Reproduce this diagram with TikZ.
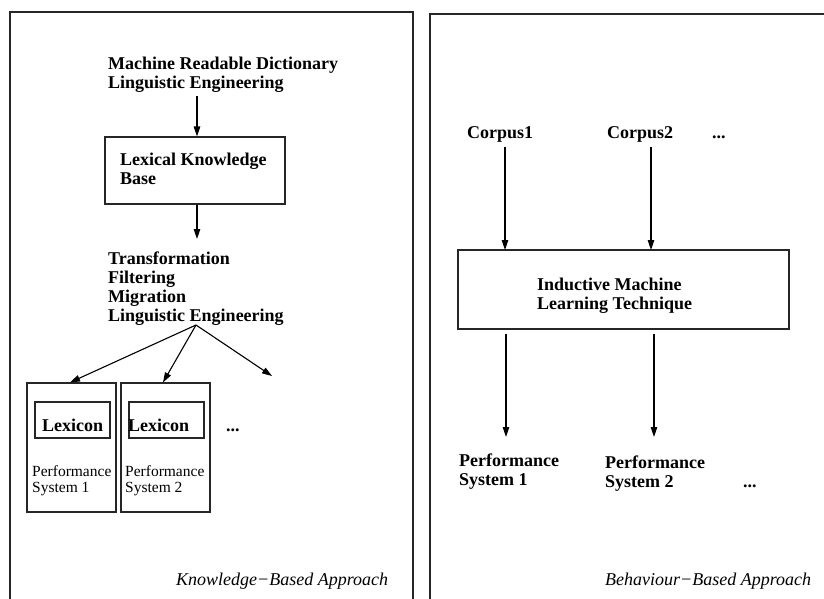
\documentclass[tikz,border=0pt]{standalone}
\usepackage{fontspec}
\setmainfont{Liberation Serif}
\usetikzlibrary{arrows.meta}

\tikzset{
  panel/.style={line width=1.2pt, black!85},
  box/.style={draw, line width=1.1pt, black!85, inner sep=0pt},
  bold/.style={font=\fontsize{18}{19}\selectfont\bfseries, align=left, anchor=base west, inner sep=0pt},
  plain/.style={font=\fontsize{15.5}{16}\selectfont, align=left, anchor=base west, inner sep=0pt},
  approach/.style={font=\fontsize{18}{19}\selectfont\itshape, anchor=base west, inner sep=0pt},
  flow/.style={-{Triangle[length=10pt,width=6.5pt]}, line width=1.1pt}
}

\begin{document}
\begin{tikzpicture}[x=1pt, y=1pt]
  \useasboundingbox (0,0) rectangle (824,-598);

  % knowledge-based panel
  \draw[panel] (10,-600) -- (10,-12) -- (413,-12) -- (413,-600);
  \node[bold] (mrd) at (108,-88) {Machine Readable Dictionary\\Linguistic Engineering};
  \node[box, minimum width=180pt, minimum height=67pt] (lkb) at (195,-170.5) {};
  \node[bold] (lkbtext) at (120,-184) {Lexical Knowledge\\Base};
  \node[bold] (tfm) at (108,-321) {Transformation\\Filtering\\Migration\\Linguistic Engineering};
  \coordinate (fork) at (196,-325);
  \coordinate (more) at (272,-376);
  \draw[flow] (mrd.south -| 197,0) ++(0,-4) -- (lkb.north -| 197,0);
  \draw[flow] (lkb.south -| 197,0) -- (197,-239);

  \node[box, minimum width=89pt, minimum height=129pt] (ps1) at (71.5,-447.5) {};
  \node[box, minimum width=89pt, minimum height=129pt] (ps2) at (165.5,-447.5) {};
  \node[box, minimum width=75pt, minimum height=36pt] (lex1) at (72.5,-420) {};
  \node[box, minimum width=75pt, minimum height=36pt] (lex2) at (166.5,-420) {};
  \node[bold] (lex1text) at (42,-431) {Lexicon};
  \node[bold] (lex2text) at (128,-431) {Lexicon};
  \node[bold] (dots1) at (226,-431) {...};
  \node[plain] (ps1text) at (32,-492) {Performance\\System 1};
  \node[plain] (ps2text) at (125,-492) {Performance\\System 2};
  \draw[flow] (fork) -- (ps1.north -| 70,0);
  \draw[flow] (fork) -- (ps2.north -| 163,0);
  \draw[flow] (fork) -- (more);
  \node[approach] (kba) at (176,-585) {Knowledge−Based Approach};

  % behaviour-based panel
  \draw[panel] (430,-600) -- (430,-14) -- (826,-14);
  \node[bold] (c1) at (467,-138) {Corpus1};
  \node[bold] (c2) at (607,-138) {Corpus2};
  \node[bold] (dots2) at (712,-138) {...};
  \node[box, minimum width=331pt, minimum height=79pt] (iml) at (623.5,-289.5) {};
  \node[bold] (imltext) at (537,-309) {Inductive Machine\\Learning Technique};
  \coordinate (in1) at (505,-250);
  \coordinate (in2) at (651,-250);
  \coordinate (out1) at (506,-437);
  \coordinate (out2) at (654,-437);
  \draw[flow, shorten <=5pt] (in1 |- c1.south) -- (in1);
  \draw[flow, shorten <=5pt] (in2 |- c2.south) -- (in2);
  \draw[flow, shorten <=4pt] (iml.south -| out1) -- (out1);
  \draw[flow, shorten <=4pt] (iml.south -| out2) -- (out2);
  \node[bold] (bps1) at (459,-485) {Performance\\System 1};
  \node[bold] (bps2) at (605,-487) {Performance\\System 2};
  \node[bold] (dots3) at (743,-487) {...};
  \node[approach] (bba) at (605,-585) {Behaviour−Based Approach};
\end{tikzpicture}
\end{document}
